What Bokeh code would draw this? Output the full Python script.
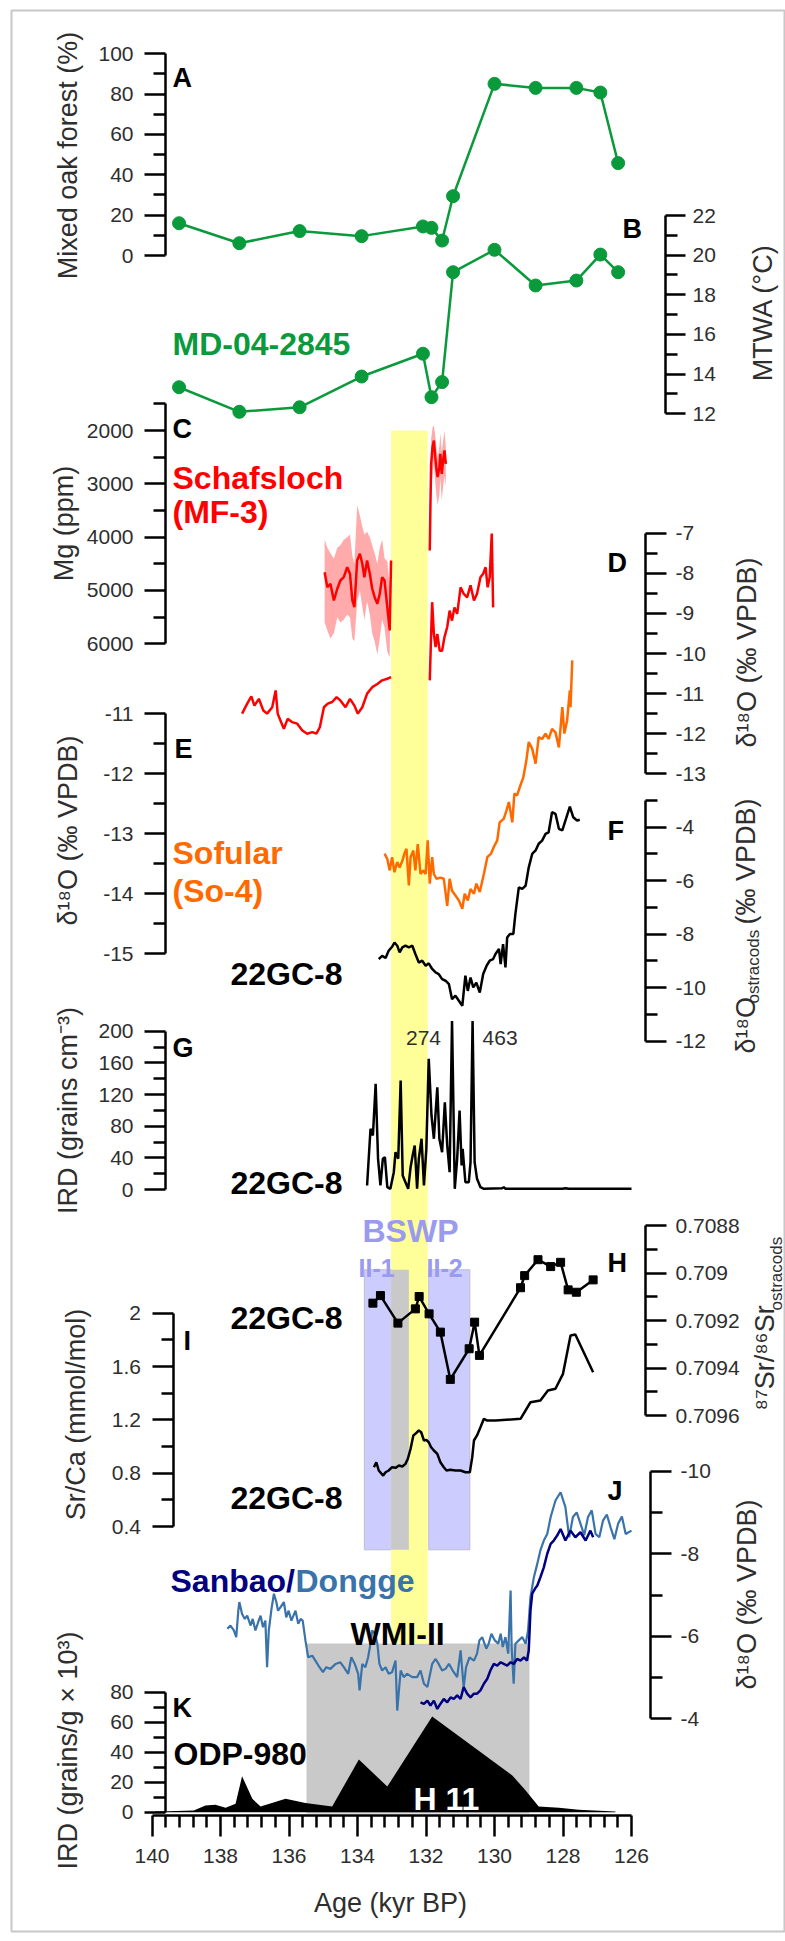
from math import pi
import numpy as np
from bokeh.plotting import figure
from bokeh.models import Range1d, LinearAxis, FixedTicker, Label
from bokeh.embed import file_html
from bokeh.resources import INLINE

# ---------------------------------------------------------------- data
# A / B  MD-04-2845 pollen record
md_age = [139.21, 137.45, 135.69, 133.88, 132.09, 131.84, 131.53, 131.21, 130.00, 128.80, 127.61, 126.91, 126.39]
oak_pct = [16.0, 6.1, 12.1, 9.6, 14.4, 13.7, 7.4, 29.4, 85.1, 83.1, 83.1, 80.8, 45.8]
mtwa_c = [13.34, 12.1, 12.33, 13.88, 15.03, 12.84, 13.6, 19.14, 20.27, 18.47, 18.72, 20.03, 19.14]

# C  Schafsloch Mg (two growth phases) with uncertainty envelope
mg1_age = [134.96, 134.88, 134.79, 134.69, 134.59, 134.50, 134.40, 134.30, 134.22, 134.15, 134.09, 134.01, 133.93,
           133.86, 133.80, 133.72, 133.64, 133.57, 133.50, 133.42, 133.35, 133.28, 133.21, 133.13, 133.06, 133.02]
mg1_ppm = [4657, 4938, 4874, 5188, 4968, 4813, 4751, 4563, 4687, 5188, 5313, 4438, 4312,
           4499, 4751, 4438, 4687, 4968, 5126, 5249, 5062, 4751, 4813, 5313, 5750, 4438]
mg1_lo = [4050, 4200, 4300, 4400, 4200, 4150, 4050, 4000, 3950, 4350, 4500, 3400, 3600,
          3800, 3950, 3900, 4000, 4150, 4300, 4500, 4200, 4050, 4400, 4450, 4900, 4350]
mg1_hi = [5600, 5750, 5900, 5800, 5500, 5600, 5550, 5450, 5500, 5900, 5950, 5200, 5000,
          5300, 5550, 5200, 5450, 5800, 5950, 6200, 5900, 5550, 5700, 6150, 6250, 4500]
mg2_age = [131.89, 131.87, 131.85, 131.81, 131.77, 131.73, 131.69, 131.66, 131.61, 131.58, 131.54, 131.50, 131.46, 131.42]
mg2_ppm = [4250, 3375, 2625, 2313, 2188, 2500, 2750, 2875, 2688, 2437, 2812, 2563, 2375, 2625]
mg2_lo = [4200, 3000, 2150, 1950, 1900, 2100, 2350, 2500, 2300, 2050, 2400, 2200, 2000, 2300]
mg2_hi = [4300, 3700, 3100, 2800, 2600, 2950, 3250, 3400, 3200, 2900, 3300, 3050, 2850, 3050]

# D  Schafsloch d18O
mf_age1 = [137.37, 137.22, 137.10, 137.01, 136.88, 136.75, 136.64, 136.49, 136.39, 136.33, 136.25, 136.15, 136.04,
           135.91, 135.76, 135.61, 135.47, 135.32, 135.20, 135.10, 134.98, 134.87, 134.74, 134.61, 134.50, 134.35,
           134.22, 134.09, 133.99, 133.86, 133.72, 133.57, 133.42, 133.28, 133.13, 133.02]
mf_d18o1 = [-11.50, -11.25, -11.07, -11.30, -11.13, -11.42, -11.50, -11.34, -10.92, -11.50, -11.67, -11.88, -11.63,
            -11.71, -11.75, -11.92, -12.00, -11.96, -12.00, -11.84, -11.34, -11.25, -11.21, -11.09, -11.17, -11.34,
            -11.13, -11.30, -11.50, -11.34, -11.00, -10.84, -10.76, -10.67, -10.63, -10.59]
mf_age2 = [131.89, 131.85, 131.82, 131.77, 131.72, 131.67, 131.60, 131.53, 131.46, 131.38, 131.31, 131.24, 131.17,
           131.09, 130.99, 130.90, 130.80, 130.70, 130.60, 130.51, 130.41, 130.33, 130.26, 130.20, 130.14, 130.08, 130.04]
mf_d18o2 = [-10.67, -9.51, -8.72, -9.51, -9.84, -9.51, -9.93, -9.93, -9.59, -9.34, -8.93, -9.18, -8.85,
            -9.01, -8.35, -8.51, -8.60, -8.30, -8.68, -8.51, -8.10, -8.01, -7.85, -8.35, -8.10, -7.01, -8.85]

# E  Sofular So-4 d18O
so4_age = [133.21, 133.13, 133.06, 132.99, 132.92, 132.84, 132.77, 132.69, 132.63, 132.57, 132.50, 132.45, 132.37,
           132.31, 132.24, 132.16, 132.08, 132.01, 131.95, 131.89, 131.82, 131.77, 131.69, 131.58, 131.48, 131.38,
           131.31, 131.24, 131.14, 131.04, 130.94, 130.87, 130.78, 130.70, 130.60, 130.53, 130.43, 130.31, 130.21,
           130.10, 130.02, 129.92, 129.85, 129.73, 129.65, 129.58, 129.48, 129.42, 129.34, 129.26, 129.16, 129.07,
           129.00, 128.90, 128.80, 128.71, 128.61, 128.51, 128.42, 128.32, 128.22, 128.12, 128.02, 127.96, 127.88,
           127.80, 127.78, 127.73]
so4_d18o = [-13.33, -13.42, -13.61, -13.39, -13.64, -13.47, -13.56, -13.45, -13.33, -13.25, -13.86, -13.39, -13.28,
            -13.61, -13.17, -13.67, -13.61, -13.67, -13.11, -13.83, -13.39, -13.67, -13.75, -13.73, -13.75, -14.20,
            -13.75, -13.95, -14.03, -14.11, -14.25, -14.00, -14.11, -13.92, -14.00, -13.83, -13.97, -13.67, -13.39,
            -13.33, -13.22, -13.11, -12.81, -12.75, -12.61, -12.47, -12.81, -12.33, -12.36, -12.22, -12.06, -11.78,
            -11.47, -11.58, -11.83, -11.39, -11.42, -11.33, -11.42, -11.25, -11.31, -11.56, -10.89, -11.33, -11.11,
            -10.61, -10.89, -10.11]

# F  22GC-8 ostracod d18O
gc_age = [133.38, 133.28, 133.18, 133.09, 132.99, 132.92, 132.84, 132.77, 132.69, 132.60, 132.50, 132.40, 132.31,
          132.21, 132.11, 132.01, 131.92, 131.82, 131.72, 131.63, 131.53, 131.43, 131.33, 131.24, 131.14, 131.04,
          130.94, 130.85, 130.78, 130.70, 130.62, 130.53, 130.43, 130.33, 130.23, 130.14, 130.04, 129.97, 129.87,
          129.82, 129.75, 129.68, 129.63, 129.55, 129.45, 129.39, 129.29, 129.19, 129.09, 129.00, 128.90, 128.80,
          128.71, 128.61, 128.51, 128.42, 128.32, 128.22, 128.12, 128.02, 127.93, 127.80, 127.70, 127.59, 127.51]
gc_d18o = [-8.93, -8.81, -8.89, -8.62, -8.47, -8.31, -8.43, -8.68, -8.49, -8.43, -8.49, -8.43, -8.74,
           -9.06, -8.99, -9.18, -9.09, -9.30, -9.43, -9.49, -9.68, -9.74, -9.87, -10.43, -10.30, -10.49,
           -10.68, -9.55, -10.12, -9.62, -9.99, -9.81, -10.18, -9.49, -9.18, -8.99, -8.93, -8.74, -8.55,
           -9.12, -8.37, -9.24, -8.12, -7.99, -7.99, -7.24, -6.25, -6.31, -6.18, -5.50, -5.00, -4.87,
           -4.62, -4.50, -4.25, -4.19, -3.44, -3.50, -4.06, -4.12, -3.75, -3.23, -3.63, -3.75, -3.72]

# G  22GC-8 IRD
ird_age = [133.72, 133.62, 133.55, 133.47, 133.40, 133.33, 133.26, 133.20, 133.13, 133.04, 132.94, 132.89, 132.81,
           132.74, 132.68, 132.60, 132.52, 132.45, 132.39, 132.33, 132.26, 132.21, 132.13, 132.06, 131.99, 131.92,
           131.84, 131.77, 131.67, 131.61, 131.53, 131.45, 131.38, 131.31, 131.24, 131.16, 131.09, 131.02, 130.96,
           130.93, 130.85, 130.75, 130.70, 130.64, 130.58, 130.51, 130.41, 130.31, 129.78, 129.73, 129.68, 128.02,
           127.93, 127.83, 126.00]
ird_grains = [5.1, 76.7, 68.2, 133.5, 38.8, 5.1, 38.8, 40.8, 2.9, 0.9, 21.9, 47.1, 38.8,
              137.7, 17.7, 9.2, 0.9, 28.2, 43.0, 55.6, 0.9, 38.8, 64.1, 5.1, 51.4, 165.1,
              93.5, 64.1, 129.2, 64.1, 47.1, 110.3, 55.6, 21.9, 274, 0.9, 38.8, 99.8, 30.3,
              51.4, 9.2, 9.2, 34.5, 463, 34.5, 13.5, 2.9, 0.9, 1.6, 2.9, 0.9, 0.9,
              1.6, 0.9, 0.9]
IRD_AXIS_TOP = 213  # values above this run off the top of panel G

# H  22GC-8 ostracod 87Sr/86Sr
sr_age = [133.55, 133.33, 132.82, 132.31, 132.20, 131.91, 131.58, 131.29, 130.74, 130.58, 130.44, 129.24, 129.12,
          128.73, 128.36, 128.07, 127.85, 127.61, 127.12]
sr_ratio = [0.709127, 0.709095, 0.709211, 0.709151, 0.709099, 0.709172, 0.709249, 0.709448, 0.709319, 0.709207,
            0.709347, 0.709062, 0.709011, 0.708944, 0.708973, 0.708955, 0.709071, 0.709081, 0.709029]

# I  22GC-8 ostracod Sr/Ca
srca_age = [133.52, 133.45, 133.38, 133.25, 133.18, 133.09, 132.99, 132.89, 132.79, 132.69, 132.60, 132.53, 132.45,
            132.37, 132.31, 132.21, 132.14, 132.06, 131.99, 131.92, 131.85, 131.77, 131.67, 131.58, 131.48, 131.40,
            131.29, 131.14, 130.99, 130.85, 130.72, 130.65, 130.60, 130.51, 130.41, 130.31, 130.21, 130.12, 129.97,
            129.24, 128.95, 128.66, 128.44, 128.22, 128.00, 127.78, 127.64, 127.42, 127.12]
srca = [0.845, 0.882, 0.820, 0.782, 0.807, 0.820, 0.845, 0.840, 0.857, 0.850, 0.870, 0.908, 0.983,
        1.083, 1.095, 1.120, 1.107, 1.045, 1.050, 1.032, 0.995, 0.970, 0.945, 0.882, 0.845, 0.820,
        0.825, 0.820, 0.820, 0.807, 0.807, 0.920, 1.045, 1.083, 1.145, 1.208, 1.195, 1.195, 1.195,
        1.208, 1.332, 1.345, 1.420, 1.433, 1.545, 1.833, 1.840, 1.720, 1.557]

# J  Chinese speleothem d18O
dongge_age = [137.80, 137.71, 137.61, 137.54, 137.48, 137.45, 137.37, 137.29, 137.22, 137.12, 137.06, 136.98, 136.90,
              136.83, 136.76, 136.69, 136.64, 136.59, 136.51, 136.44, 136.37, 136.32, 136.25, 136.15, 136.08, 136.01,
              135.93, 135.81, 135.73, 135.66, 135.60, 135.52, 135.44, 135.32, 135.23, 135.11, 135.01, 134.91, 134.79,
              134.64, 134.50, 134.40, 134.27, 134.18, 134.08, 133.98, 133.94, 133.86, 133.77, 133.69, 133.62, 133.57,
              133.49, 133.42, 133.36, 133.28, 133.18, 133.09, 132.99, 132.89, 132.84, 132.74, 132.65, 132.55, 132.40,
              132.26, 132.16, 132.06, 131.96, 131.82, 131.72, 131.63, 131.53, 131.43, 131.33, 131.22, 131.09, 130.99,
              130.90, 130.83, 130.73, 130.60, 130.51, 130.44, 130.36, 130.24, 130.17, 130.09, 129.99, 129.89, 129.82,
              129.76, 129.68, 129.60, 129.53, 129.50, 129.44, 129.39, 129.29, 129.19, 129.09, 129.02, 128.95, 128.85,
              128.75, 128.66, 128.56, 128.46, 128.36, 128.22, 128.07, 127.93, 127.82, 127.71, 127.60, 127.49, 127.38,
              127.27, 127.16, 127.05, 126.94, 126.83, 126.72, 126.61, 126.50, 126.39, 126.28, 126.17, 126.00]
dongge_d18o = [-6.18, -6.26, -6.14, -5.98, -6.62, -6.83, -6.54, -6.42, -6.50, -6.26, -6.42, -6.14, -6.34,
               -6.50, -6.22, -6.38, -5.25, -6.14, -6.67, -7.03, -6.83, -6.62, -6.70, -6.83, -6.46, -6.62,
               -6.38, -6.62, -6.30, -6.42, -6.38, -5.90, -5.49, -5.53, -5.41, -5.25, -5.13, -5.25, -5.21,
               -5.33, -5.37, -5.25, -5.09, -5.49, -5.33, -5.09, -4.69, -5.33, -5.25, -5.49, -5.82, -6.14,
               -6.06, -5.82, -5.33, -5.17, -5.25, -5.09, -5.13, -5.41, -4.20, -5.17, -5.01, -5.09, -5.01,
               -5.01, -5.17, -4.85, -4.77, -5.33, -5.45, -5.33, -5.17, -5.21, -5.33, -5.17, -5.01, -5.66,
               -4.77, -5.25, -5.49, -5.41, -5.58, -5.90, -5.98, -5.70, -5.82, -6.06, -5.90, -5.82, -6.06,
               -5.74, -5.98, -5.58, -7.11, -5.74, -4.85, -5.82, -5.90, -5.98, -5.82, -6.14, -6.95, -7.43,
               -7.76, -8.08, -8.32, -8.48, -8.89, -9.29, -9.49, -9.13, -8.40, -8.89, -9.00, -8.73, -8.45,
               -8.89, -9.05, -8.48, -8.40, -8.81, -8.95, -8.64, -8.35, -8.73, -8.90, -8.48, -8.56]
sanbao_age = [132.16, 132.06, 131.96, 131.87, 131.77, 131.67, 131.58, 131.48, 131.38, 131.28, 131.19, 131.09, 130.99,
              130.90, 130.80, 130.70, 130.60, 130.51, 130.41, 130.31, 130.21, 130.12, 130.02, 129.92, 129.82, 129.73,
              129.63, 129.53, 129.44, 129.34, 129.24, 129.14, 129.05, 129.00, 128.95, 128.90, 128.82, 128.75, 128.66,
              128.56, 128.46, 128.36, 128.27, 128.17, 128.07, 127.93, 127.78, 127.64, 127.49, 127.34, 127.20, 127.12]
sanbao_d18o = [-4.40, -4.36, -4.44, -4.32, -4.44, -4.24, -4.36, -4.48, -4.40, -4.52, -4.48, -4.57, -4.48,
               -4.77, -4.61, -4.52, -4.61, -4.61, -4.69, -4.85, -4.97, -5.17, -5.33, -5.29, -5.37, -5.33,
               -5.29, -5.37, -5.33, -5.45, -5.41, -5.49, -5.41, -5.66, -6.62, -7.03, -7.15, -7.23, -7.43,
               -7.67, -8.00, -8.24, -8.32, -8.44, -8.60, -8.32, -8.56, -8.40, -8.52, -8.32, -8.56, -8.40]

# K  ODP-980 IRD
odp_age = [139.90, 139.56, 138.78, 138.44, 138.15, 137.85, 137.56, 137.37, 137.07, 136.83, 136.10, 135.52, 134.74,
           133.96, 133.13, 131.82, 129.48, 129.09, 128.71, 128.12, 127.54, 126.47]
odp_ird = [0.5, 0.7, 1.1, 4.5, 4.9, 2.9, 5.6, 24.0, 8.9, 3.8, 8.9, 6.2, 3.8,
           35.1, 17.1, 63.8, 24.5, 14.5, 3.8, 2.9, 1.6, 0.5]

# shaded intervals (kyr BP)
band_yellow = (133.02, 131.95)
bswp_intervals = [(133.80, 132.50), (131.92, 130.72)]
bswp_names = ["II-1", "II-2"]
wmi_interval = (135.49, 128.98)

# axis ticks and their labels
age_ticks = [126, 128, 130, 132, 134, 136, 138, 140]
oak_ticks, oak_labels = [0, 20, 40, 60, 80, 100], ["0", "20", "40", "60", "80", "100"]
mtwa_ticks, mtwa_labels = [12, 14, 16, 18, 20, 22], ["12", "14", "16", "18", "20", "22"]
mg_ticks, mg_labels = [2000, 3000, 4000, 5000, 6000], ["2000", "3000", "4000", "5000", "6000"]
mf_ticks, mf_labels = [-13, -12, -11, -10, -9, -8, -7], ["-13", "-12", "-11", "-10", "-9", "-8", "-7"]
so_ticks, so_labels = [-15, -14, -13, -12, -11], ["-15", "-14", "-13", "-12", "-11"]
gc_ticks, gc_labels = [-12, -10, -8, -6, -4], ["-12", "-10", "-8", "-6", "-4"]
ird_ticks, ird_labels = [0, 40, 80, 120, 160, 200], ["0", "40", "80", "120", "160", "200"]
sr_ticks, sr_labels = [0.7088, 0.709, 0.7092, 0.7094, 0.7096], ["0.7088", "0.709", "0.7092", "0.7094", "0.7096"]
srca_ticks, srca_labels = [0.4, 0.8, 1.2, 1.6, 2.0], ["0.4", "0.8", "1.2", "1.6", "2"]
sp_ticks, sp_labels = [-10, -8, -6, -4], ["-10", "-8", "-6", "-4"]
odp_ticks, odp_labels = [0, 20, 40, 60, 80], ["0", "20", "40", "60", "80"]

# ---------------------------------------------------------------- styles
FONT = "Liberation Sans"
GREEN, RED, PINK, ORANGE = "#0a9a3c", "#ff0000", "#ffabab", "#ff6a00"
NAVY, STEEL = "#000080", "#3a73aa"
YELLOW, LAVENDER, SHADE = "#ffff99", "#ccccff", "#c9c9c9"
BSWP_TEXT, INK, TICK_INK = "#9a9aee", "#000000", "#2e2e2e"

# ---------------------------------------------------------------- page geometry
W, H = 785, 1941
F_LEFT, F_TOP, F_BOTTOM = 11, 10, 1931
AGE0, AGE0_PX, PX_PER_KYR = 140.0, 151.5, 34.25


def age_at(px):
    return AGE0 - (px - AGE0_PX) / PX_PER_KYR


def value_range(v_a, y_a, v_b, y_b):
    """Range whose value v_a sits at page row y_a and v_b at page row y_b."""
    s = (v_b - v_a) / (y_b - y_a)
    return Range1d(start=v_a + (F_BOTTOM - y_a) * s, end=v_a + (F_TOP - y_a) * s)


p = figure(width=W, height=H, output_backend="svg", toolbar_location=None,
           x_range=Range1d(age_at(F_LEFT), age_at(W)), y_range=Range1d(F_BOTTOM, F_TOP),
           x_axis_type=None, y_axis_type=None,
           min_border_left=F_LEFT, min_border_right=0, min_border_top=F_TOP, min_border_bottom=H - F_BOTTOM)
p.outline_line_color = "#c8c8c8"
p.outline_line_width = 2
p.background_fill_color = "white"
p.border_fill_color = "white"

p.extra_x_ranges = {"px": Range1d(F_LEFT, W)}
p.extra_y_ranges = {
    "A": value_range(0, 255, 100, 53.3),
    "B": value_range(12, 413.3, 22, 215),
    "C": value_range(2000, 430, 6000, 643.3),
    "D": value_range(-7, 532.7, -13, 773.3),
    "E": value_range(-11, 713.3, -15, 953.3),
    "F": value_range(-4, 826.7, -12, 1040.7),
    "G": value_range(0, 1189, 200, 1030.7),
    "H": value_range(0.7088, 1225, 0.7096, 1415),
    "I": value_range(2, 1312.7, 0.4, 1526),
    "J": value_range(-10, 1470.7, -4, 1718.3),
    "K": value_range(0, 1811.7, 80, 1691.7),
}


def style_axis(ax, standoff, tick_out, minor_out):
    ax.axis_line_width = 2.5
    ax.axis_line_color = INK
    ax.major_tick_line_width = 2.5
    ax.minor_tick_line_width = 2.5
    ax.major_tick_line_color = INK
    ax.minor_tick_line_color = INK
    ax.major_tick_in = 0
    ax.minor_tick_in = 0
    ax.major_tick_out = tick_out
    ax.minor_tick_out = minor_out
    ax.major_label_standoff = standoff
    ax.major_label_text_font = FONT
    ax.major_label_text_font_size = "21px"
    ax.major_label_text_color = TICK_INK


def add_axis(side, name, x_px, bounds, ticks, labels, minor, standoff, tick_out=21, minor_out=12):
    ax = LinearAxis(y_range_name=name, x_range_name="px", fixed_location=x_px, bounds=bounds,
                    ticker=FixedTicker(ticks=ticks, minor_ticks=minor),
                    major_label_overrides=dict(zip(ticks, labels)))
    style_axis(ax, standoff, tick_out, minor_out)
    p.add_layout(ax, side)


# ---------------------------------------------------------------- shading
BAND_TOP, BAND_BOTTOM = 430, 1643
BSWP_TOP, BSWP_BOTTOM = 1269.3, 1549.3
WMI_TOP, WMI_BOTTOM = 1643, 1813

p.quad(left=[wmi_interval[0]], right=[wmi_interval[1]], top=[WMI_TOP], bottom=[WMI_BOTTOM],
       fill_color=SHADE, line_color=None)
p.quad(left=[b[0] for b in bswp_intervals], right=[b[1] for b in bswp_intervals],
       top=BSWP_TOP, bottom=BSWP_BOTTOM, fill_color=LAVENDER, line_color="#bdbdcf", line_width=1)
p.quad(left=[band_yellow[0]], right=[band_yellow[1]], top=[BAND_TOP], bottom=[BAND_BOTTOM],
       fill_color=YELLOW, line_color=None)
# where a BSWP phase and the yellow band coincide the overlap shows grey
ov_l, ov_r = [], []
for old, young in bswp_intervals:
    lo = max(young, band_yellow[1])
    hi = min(old, band_yellow[0])
    if hi > lo:
        ov_l.append(hi)
        ov_r.append(lo)
if ov_l:
    p.quad(left=ov_l, right=ov_r, top=BSWP_TOP, bottom=BSWP_BOTTOM, fill_color=SHADE, line_color=None)

# ---------------------------------------------------------------- series
p.line(md_age, oak_pct, y_range_name="A", line_color=GREEN, line_width=2.5)
p.scatter(md_age, oak_pct, y_range_name="A", marker="circle", size=13, color=GREEN)
p.line(md_age, mtwa_c, y_range_name="B", line_color=GREEN, line_width=2.5)
p.scatter(md_age, mtwa_c, y_range_name="B", marker="circle", size=13, color=GREEN)

p.varea(x=mg1_age, y1=mg1_lo, y2=mg1_hi, y_range_name="C", fill_color=PINK)
p.varea(x=mg2_age, y1=mg2_lo, y2=mg2_hi, y_range_name="C", fill_color=PINK)
p.line(mg1_age, mg1_ppm, y_range_name="C", line_color=RED, line_width=2.5)
p.line(mg2_age, mg2_ppm, y_range_name="C", line_color=RED, line_width=2.5)

p.line(mf_age1, mf_d18o1, y_range_name="D", line_color=RED, line_width=2.5)
p.line(mf_age2, mf_d18o2, y_range_name="D", line_color=RED, line_width=2.5)

p.line(so4_age, so4_d18o, y_range_name="E", line_color=ORANGE, line_width=2.5)
p.line(gc_age, gc_d18o, y_range_name="F", line_color=INK, line_width=2.5)

ird_shown = np.minimum(np.array(ird_grains, dtype=float), IRD_AXIS_TOP)
p.line(ird_age, ird_shown, y_range_name="G", line_color=INK, line_width=2.5)

p.line(sr_age, sr_ratio, y_range_name="H", line_color=INK, line_width=2.5)
p.scatter(sr_age, sr_ratio, y_range_name="H", marker="square", size=8, color=INK)
p.line(srca_age, srca, y_range_name="I", line_color=INK, line_width=2.5)

p.line(dongge_age, dongge_d18o, y_range_name="J", line_color=STEEL, line_width=2.2)
p.line(sanbao_age, sanbao_d18o, y_range_name="J", line_color=NAVY, line_width=2.5)

p.varea(x=odp_age, y1=0, y2=odp_ird, y_range_name="K", fill_color=INK)

# ---------------------------------------------------------------- axes
add_axis("left", "A", 165, (0, 100), oak_ticks, oak_labels, [10, 30, 50, 70, 90], 11)
add_axis("right", "B", 665, (12, 22), mtwa_ticks, mtwa_labels, [13, 15, 17, 19, 21], 7, 20, 12)
add_axis("left", "C", 165, (1500, 6000), mg_ticks, mg_labels, [1500, 2500, 3500, 4500, 5500], 11)
add_axis("right", "D", 645, (-13, -7), mf_ticks, mf_labels,
         [-12.5, -11.5, -10.5, -9.5, -8.5, -7.5], 9)
add_axis("left", "E", 165, (-15, -11), so_ticks, so_labels, [-14.5, -13.5, -12.5, -11.5], 11)
add_axis("right", "F", 645, (-12, -3), gc_ticks, gc_labels, [-11, -9, -7, -5, -3], 9)
add_axis("left", "G", 165, (0, 200), ird_ticks, ird_labels, [20, 60, 100, 140, 180], 11)
add_axis("right", "H", 645, (0.7088, 0.7096), sr_ticks, sr_labels, [0.7089, 0.7091, 0.7093, 0.7095], 9)
add_axis("left", "I", 172.5, (0.4, 2.0), srca_ticks, srca_labels, [0.6, 1.0, 1.4, 1.8], 11)
add_axis("right", "J", 650, (-10, -4), sp_ticks, sp_labels, [-9, -7, -5], 9)
add_axis("left", "K", 165, (0, 80), odp_ticks, odp_labels, [10, 30, 50, 70], 11)

age_minor = [round(t, 1) for t in np.arange(126.4, 140.0, 0.4) if abs(t - round(t / 2) * 2) > 1e-6]
xax = LinearAxis(fixed_location=1815, bounds=(126, 140), ticker=FixedTicker(ticks=age_ticks, minor_ticks=age_minor),
                 major_label_overrides={t: str(t) for t in age_ticks})
style_axis(xax, 12, 21, 12)
p.add_layout(xax, "below")

# ---------------------------------------------------------------- text


def text(x_px, y_px, s, color=INK, size="32px", bold=True, align="left", baseline="alphabetic", angle=0.0):
    p.add_layout(Label(x=x_px, y=y_px, x_range_name="px", text=s, text_color=color, text_font=FONT,
                       text_font_size=size, text_font_style="bold" if bold else "normal",
                       text_align=align, text_baseline=baseline, angle=angle))


def title(x_px, y_px, s, size="27px", align="center"):
    text(x_px, y_px, s, color=TICK_INK, size=size, bold=False, align=align, baseline="middle", angle=pi / 2)


# panel letters
for letter, lx, ly in [("A", 172, 77), ("B", 622, 228), ("C", 172, 428), ("D", 607, 562), ("E", 174, 748),
                       ("F", 607, 830), ("G", 172, 1047), ("H", 607, 1262), ("I", 183, 1340), ("J", 607, 1490),
                       ("K", 172, 1707)]:
    text(lx, ly, letter, size="27px")

# record names
text(172, 343, "MD-04-2845", color=GREEN)
text(172, 477, "Schafsloch", color=RED)
text(172, 511, "(MF-3)", color=RED)
text(172, 852, "Sofular", color=ORANGE)
text(172, 890, "(So-4)", color=ORANGE)
text(230, 973, "22GC-8")
text(230, 1182, "22GC-8")
text(230, 1317, "22GC-8")
text(230, 1497, "22GC-8")
text(170, 1580, "Sanbao/", color=NAVY)
text(295, 1580, "Dongge", color=STEEL)
text(350, 1633, "WMI-II")
text(173, 1753, "ODP-980")
text(413, 1798, "H 11", color="white")
text(362, 1230, "BSWP", color=BSWP_TEXT)
text(358, 1267, bswp_names[0], color=BSWP_TEXT, size="25px")
text(426, 1267, bswp_names[1], color=BSWP_TEXT, size="25px")

# values of the IRD spikes that leave panel G
over = [i for i, v in enumerate(ird_grains) if v > IRD_AXIS_TOP]
for k, i in enumerate(over):
    p.add_layout(Label(x=ird_age[i], y=1037, text=f"{ird_grains[i]:g}", text_color=TICK_INK, text_font=FONT,
                       text_font_size="21px", text_baseline="alphabetic",
                       text_align="right" if k == 0 else "left", x_offset=-11 if k == 0 else 10))

# axis titles
title(67, 155, "Mixed oak forest (%)")
title(762, 312, "MTWA (°C)")
title(63, 523, "Mg (ppm)")
title(746, 652, "δ¹⁸O (‰ VPDB)")
title(67, 830, "δ¹⁸O (‰ VPDB)")
title(745, 1053, "δ¹⁸O", align="left")
title(753, 1003, "ostracods", size="17px", align="left")
title(745, 924, "(‰ VPDB)", align="left")
title(67, 1110, "IRD (grains cm⁻³)")
title(764, 1410, "⁸⁷Sr/⁸⁶Sr", align="left")
title(776, 1310, "ostracods", size="17px", align="left")
title(75, 1414, "Sr/Ca (mmol/mol)")
title(746, 1594, "δ¹⁸O (‰ VPDB)")
title(67, 1750, "IRD (grains/g × 10³)")
text(390, 1902, "Age (kyr BP)", color=TICK_INK, size="27px", bold=False, align="center")

open("out.html", "w").write(file_html(p, INLINE))
